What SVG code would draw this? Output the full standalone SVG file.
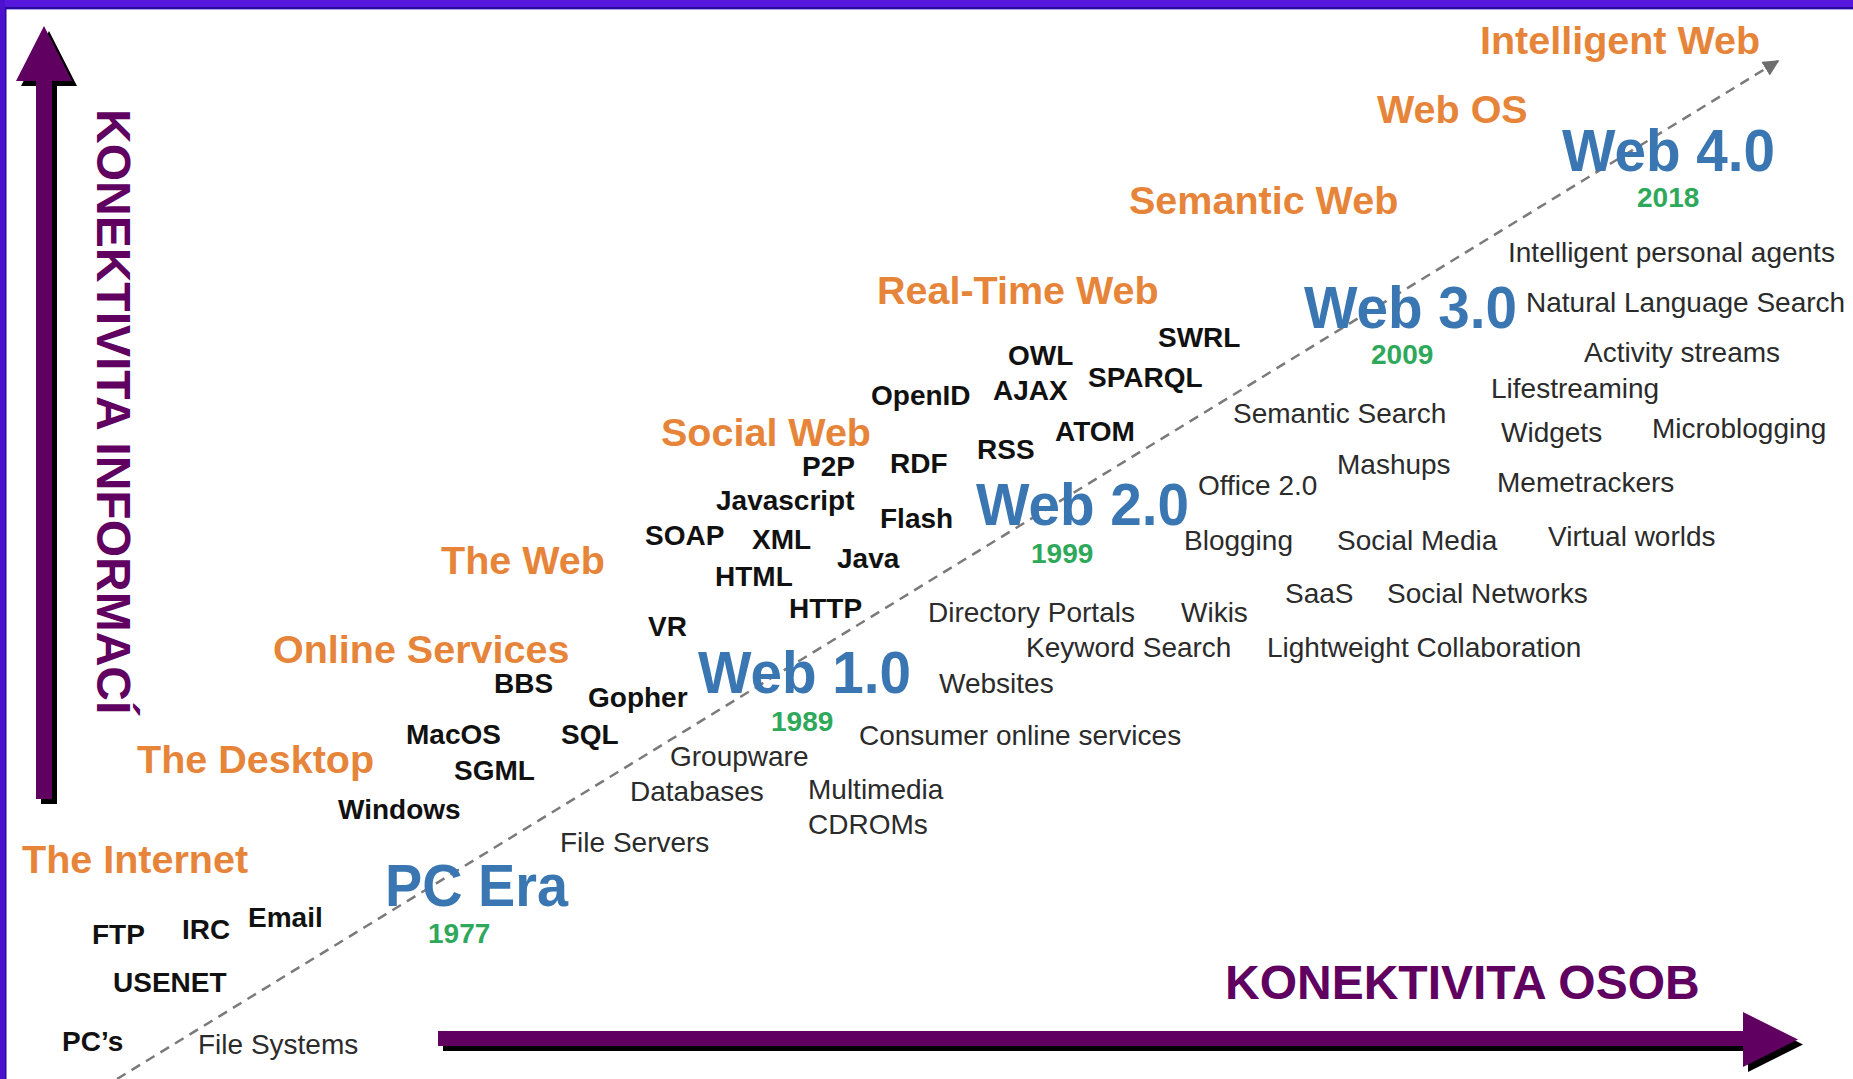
<svg xmlns="http://www.w3.org/2000/svg" width="1853" height="1079" viewBox="0 0 1853 1079">
<defs>
<style>
text{font-family:"Liberation Sans",Arial,Helvetica,sans-serif}
.cat{font-weight:bold;font-size:39.5px;fill:#E6853A}
.era{font-weight:bold;font-size:60px;fill:#3A77B2}
.yr{font-weight:bold;font-size:28px;fill:#2EA85A}
.tech{font-weight:bold;font-size:28px;fill:#111}
.item{font-size:28px;fill:#2b2b2b}
.axis{font-weight:bold;font-size:48px;fill:#600060}
.shadow{fill:#000}
.arrow{fill:#600060}
</style>
<marker id="tip" viewBox="0 0 10 10" refX="9" refY="5" markerWidth="6.5" markerHeight="6.5" orient="auto" markerUnits="strokeWidth">
<path d="M0,0 L10,5 L0,10 Z" fill="#6e6e6e"/>
</marker>
</defs>
<rect x="0" y="0" width="1853" height="1079" fill="#fff"/>
<g id="frame">
<rect x="0" y="0" width="1853" height="7" fill="#5518DC"/>
<rect x="0" y="7" width="1853" height="2" fill="#2a0a9a"/>
<rect x="0" y="9" width="1853" height="1" fill="#a9a0f0"/>
<rect x="0" y="0" width="5" height="1079" fill="#4d12d0"/>
<rect x="5" y="9" width="1.5" height="1070" fill="#2a0a9a"/>
</g>
<g id="connectors">
<line x1="117" y1="1079" x2="1778" y2="61" stroke="#7a7a7a" stroke-width="2.5" stroke-dasharray="10 7" marker-end="url(#tip)"/>
</g>
<g id="axis-y">
<path class="shadow" transform="translate(5,5)" d="M36,799 L36,81 L16,81 L44,26 L72,81 L52,81 L52,799 Z"/>
<path class="arrow" d="M36,799 L36,81 L16,81 L44,26 L72,81 L52,81 L52,799 Z"/>
<text class="axis" transform="translate(97,109) rotate(90)">KONEKTIVITA INFORMACÍ</text>
</g>
<g id="axis-x">
<path class="shadow" transform="translate(5,5)" d="M438,1031 L1743,1031 L1743,1012 L1798,1039.5 L1743,1067 L1743,1046 L438,1046 Z"/>
<path class="arrow" d="M438,1031 L1743,1031 L1743,1012 L1798,1039.5 L1743,1067 L1743,1046 L438,1046 Z"/>
<text class="axis" x="1225" y="999">KONEKTIVITA OSOB</text>
</g>
<g id="categories">
<g id="cat-intelligent-web"><text class="cat" x="1480" y="54">Intelligent Web</text></g>
<g id="cat-web-os"><text class="cat" x="1377" y="123">Web OS</text></g>
<g id="cat-semantic-web"><text class="cat" x="1129" y="214">Semantic Web</text></g>
<g id="cat-real-time-web"><text class="cat" x="877" y="304">Real-Time Web</text></g>
<g id="cat-social-web"><text class="cat" x="661" y="446">Social Web</text></g>
<g id="cat-the-web"><text class="cat" x="441" y="574">The Web</text></g>
<g id="cat-online-services"><text class="cat" x="273" y="663">Online Services</text></g>
<g id="cat-the-desktop"><text class="cat" x="137" y="773">The Desktop</text></g>
<g id="cat-the-internet"><text class="cat" x="22" y="873">The Internet</text></g>
</g>
<g id="eras">
<g id="era-web4"><text class="era" x="1562" y="171" textLength="213" lengthAdjust="spacingAndGlyphs">Web 4.0</text><text class="yr" x="1637" y="207">2018</text></g>
<g id="era-web3"><text class="era" x="1304" y="328" textLength="213" lengthAdjust="spacingAndGlyphs">Web 3.0</text><text class="yr" x="1371" y="364">2009</text></g>
<g id="era-web2"><text class="era" x="976" y="525" textLength="213" lengthAdjust="spacingAndGlyphs">Web 2.0</text><text class="yr" x="1031" y="563">1999</text></g>
<g id="era-web1"><text class="era" x="698" y="693" textLength="213" lengthAdjust="spacingAndGlyphs">Web 1.0</text><text class="yr" x="771" y="731">1989</text></g>
<g id="era-pc"><text class="era" x="385" y="906" textLength="183" lengthAdjust="spacingAndGlyphs">PC Era</text><text class="yr" x="428" y="943">1977</text></g>
</g>
<g id="technologies">
<g id="t-swrl"><text class="tech" x="1158" y="347">SWRL</text></g>
<g id="t-owl"><text class="tech" x="1008" y="365">OWL</text></g>
<g id="t-sparql"><text class="tech" x="1088" y="387">SPARQL</text></g>
<g id="t-openid"><text class="tech" x="871" y="405">OpenID</text></g>
<g id="t-ajax"><text class="tech" x="993" y="400">AJAX</text></g>
<g id="t-atom"><text class="tech" x="1055" y="441">ATOM</text></g>
<g id="t-rss"><text class="tech" x="977" y="459">RSS</text></g>
<g id="t-rdf"><text class="tech" x="890" y="473">RDF</text></g>
<g id="t-p2p"><text class="tech" x="802" y="476">P2P</text></g>
<g id="t-javascript"><text class="tech" x="716" y="510">Javascript</text></g>
<g id="t-flash"><text class="tech" x="880" y="528">Flash</text></g>
<g id="t-soap"><text class="tech" x="645" y="545">SOAP</text></g>
<g id="t-xml"><text class="tech" x="752" y="549">XML</text></g>
<g id="t-java"><text class="tech" x="837" y="568">Java</text></g>
<g id="t-html"><text class="tech" x="715" y="586">HTML</text></g>
<g id="t-http"><text class="tech" x="789" y="618">HTTP</text></g>
<g id="t-vr"><text class="tech" x="648" y="636">VR</text></g>
<g id="t-bbs"><text class="tech" x="494" y="693">BBS</text></g>
<g id="t-gopher"><text class="tech" x="588" y="707">Gopher</text></g>
<g id="t-macos"><text class="tech" x="406" y="744">MacOS</text></g>
<g id="t-sql"><text class="tech" x="561" y="744">SQL</text></g>
<g id="t-sgml"><text class="tech" x="454" y="780">SGML</text></g>
<g id="t-windows"><text class="tech" x="338" y="819">Windows</text></g>
<g id="t-email"><text class="tech" x="248" y="927">Email</text></g>
<g id="t-irc"><text class="tech" x="182" y="939">IRC</text></g>
<g id="t-ftp"><text class="tech" x="92" y="944">FTP</text></g>
<g id="t-usenet"><text class="tech" x="113" y="992">USENET</text></g>
<g id="t-pcs"><text class="tech" x="62" y="1051">PC’s</text></g>
</g>
<g id="applications">
<g id="a-ipa"><text class="item" x="1508" y="262">Intelligent personal agents</text></g>
<g id="a-nls"><text class="item" x="1526" y="312">Natural Language Search</text></g>
<g id="a-activity"><text class="item" x="1584" y="362">Activity streams</text></g>
<g id="a-lifestreaming"><text class="item" x="1491" y="398">Lifestreaming</text></g>
<g id="a-semsearch"><text class="item" x="1233" y="423">Semantic Search</text></g>
<g id="a-widgets"><text class="item" x="1501" y="442">Widgets</text></g>
<g id="a-microblogging"><text class="item" x="1652" y="438">Microblogging</text></g>
<g id="a-mashups"><text class="item" x="1337" y="474">Mashups</text></g>
<g id="a-office"><text class="item" x="1198" y="495">Office 2.0</text></g>
<g id="a-memetrackers"><text class="item" x="1497" y="492">Memetrackers</text></g>
<g id="a-blogging"><text class="item" x="1184" y="550">Blogging</text></g>
<g id="a-socialmedia"><text class="item" x="1337" y="550">Social Media</text></g>
<g id="a-virtual"><text class="item" x="1548" y="546">Virtual worlds</text></g>
<g id="a-saas"><text class="item" x="1285" y="603">SaaS</text></g>
<g id="a-socialnet"><text class="item" x="1387" y="603">Social Networks</text></g>
<g id="a-directory"><text class="item" x="928" y="622">Directory Portals</text></g>
<g id="a-wikis"><text class="item" x="1181" y="622">Wikis</text></g>
<g id="a-keyword"><text class="item" x="1026" y="657">Keyword Search</text></g>
<g id="a-lightweight"><text class="item" x="1267" y="657">Lightweight Collaboration</text></g>
<g id="a-websites"><text class="item" x="939" y="693">Websites</text></g>
<g id="a-consumer"><text class="item" x="859" y="745">Consumer online services</text></g>
<g id="a-groupware"><text class="item" x="670" y="766">Groupware</text></g>
<g id="a-databases"><text class="item" x="630" y="801">Databases</text></g>
<g id="a-multimedia"><text class="item" x="808" y="799">Multimedia</text></g>
<g id="a-cdroms"><text class="item" x="808" y="834">CDROMs</text></g>
<g id="a-fileservers"><text class="item" x="560" y="852">File Servers</text></g>
<g id="a-filesystems"><text class="item" x="198" y="1054">File Systems</text></g>
</g>
</svg>
